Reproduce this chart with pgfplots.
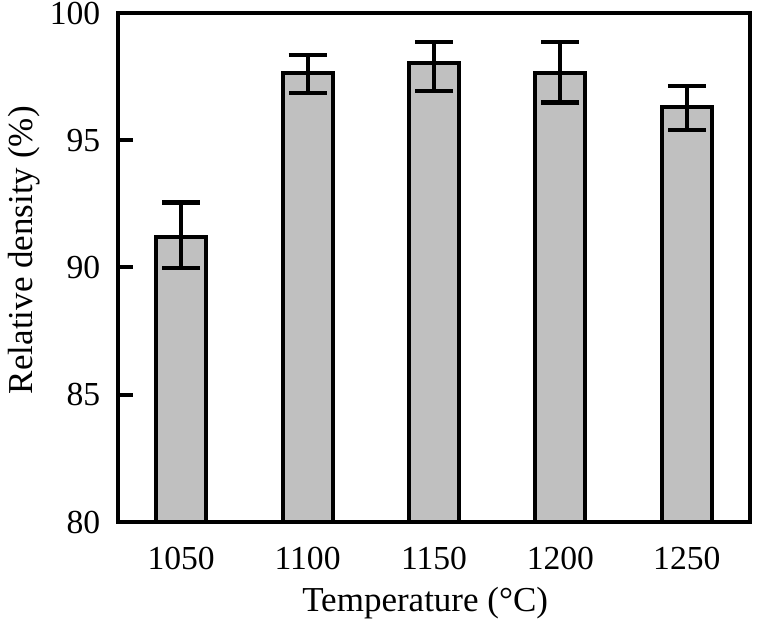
\documentclass[border=0pt]{standalone}
\usepackage{pgfplots}
\pgfplotsset{compat=1.18}
\usepackage{fontspec}
\setmainfont{Liberation Serif}
\definecolor{barfill}{HTML}{C0C0C0}
\pgfplotstableread{
x y ep em
0 91.21 1.35 1.22
1 97.63 0.72 0.78
2 98.02 0.83 1.08
3 97.66 1.19 1.18
4 96.32 0.82 0.92
}\datatable
\begin{document}
\fontsize{17}{20}\selectfont
\begin{tikzpicture}
\begin{axis}[
  width=316pt, height=254.5pt, scale only axis,
  xmin=-0.5, xmax=4.5, ymin=80, ymax=100,
  xtick={0,1,2,3,4}, xticklabels={1050,1100,1150,1200,1250},
  ytick={80,85,90,95,100},
  x tick style={draw=none},
  ytick pos=left, tick align=inside,
  major tick length=7.5pt,
  y tick style={line width=2pt, black},
  axis line style={line width=2pt},
  /pgf/number format/assume math mode=true,
  tick label style={font=\fontsize{16.8}{20}\selectfont},
  label style={font=\fontsize{17.5}{21}\selectfont},
  xticklabel style={yshift=-6.5pt},
  yticklabel style={xshift=-3pt},
  xlabel={Temperature (°C)},
  ylabel={Relative density (\%)},
  xlabel style={at={(axis description cs:0.486,-0.159)}, anchor=center},
  ylabel style={at={(axis description cs:-0.148,0.534)}, anchor=center},
]
\coordinate (sw) at (rel axis cs:0,0);
\addplot[ybar, bar width=25pt, fill=barfill, draw=black, line width=2pt,
  error bars/.cd, y dir=both, y explicit,
  error bar style={line width=2pt, black},
  error mark options={rotate=90, mark size=9.5pt, line width=2.2pt, black}]
  table[x=x, y=y, y error plus=ep, y error minus=em] {\datatable};
\end{axis}
\pgfresetboundingbox
\path ([shift={(-59pt,-54pt)}]sw) rectangle ++(381.5pt,315pt);
\end{tikzpicture}
\end{document}
